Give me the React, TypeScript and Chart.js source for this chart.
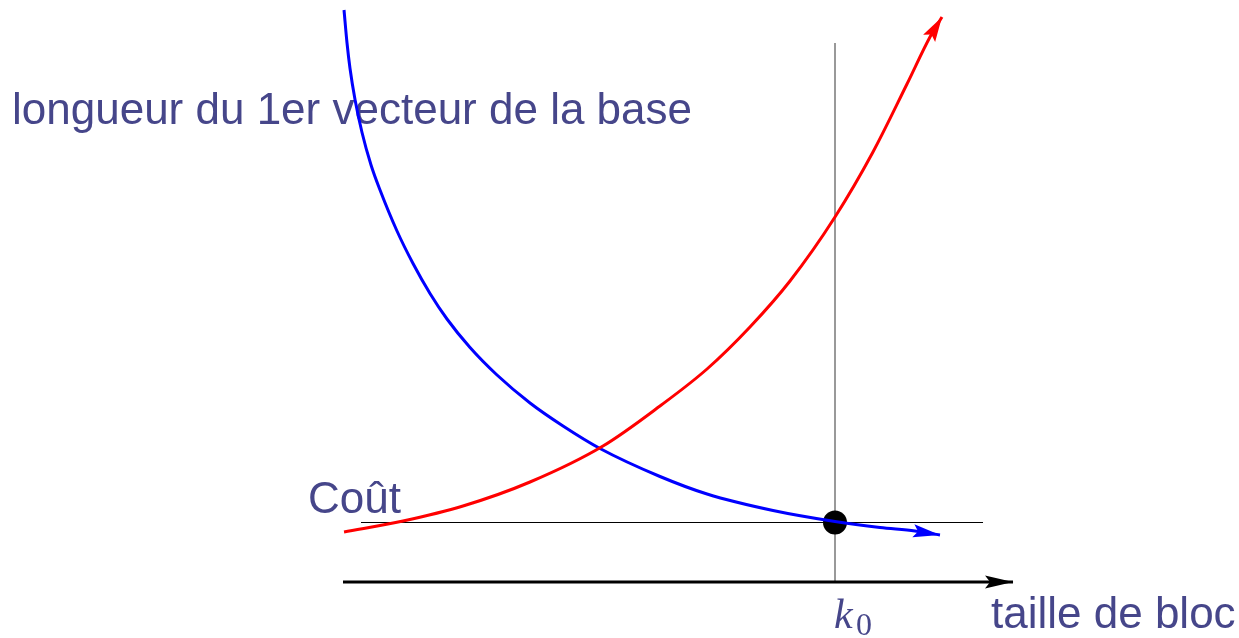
import React, { useEffect, useRef } from "react";
import { Chart, registerables } from "chart.js";

Chart.register(...registerables);

// Schematic data (x: block size, y: length / cost)
const lengthX = [0.017, 0.067, 0.117, 0.2, 0.317, 0.467, 0.617, 0.9, 1.167, 1.45, 1.733, 2.117, 2.567, 3.117, 3.667, 4.283, 5.283, 6.067, 7.167, 8.2, 8.95, 9.533, 9.95];
const lengthY = [11.44, 10.78, 10.27, 9.65, 8.99, 8.34, 7.84, 7.02, 6.37, 5.77, 5.26, 4.69, 4.14, 3.58, 3.12, 2.67, 2.11, 1.76, 1.43, 1.21, 1.09, 1.02, 0.94];

const costX = [0.017, 1.0, 2.0, 3.117, 4.333, 5.283, 6.067, 6.783, 7.45, 8.2, 8.833, 9.4, 9.783, 9.983];
const costY = [1.0, 1.22, 1.52, 2.0, 2.72, 3.52, 4.26, 5.1, 6.02, 7.3, 8.6, 9.96, 10.9, 11.3];

const axisX = [0, 11.167];
const axisY = [0, 0];

const k0 = 8.2;
const k0Top = 10.78;
const costLevel = 1.19;
const levelLineX = [0.3, 10.667];

const labels = {
  yTitle: "longueur du 1er vecteur de la base",
  cost: "Coût",
  xTitle: "taille de bloc",
  k: "k",
  kSub: "0",
};

const TEXT_COLOR = "#46468a";

const pts = (xs: number[], ys: number[]) => xs.map((x, i) => ({ x, y: ys[i] }));

export default function App() {
  const ref = useRef<HTMLCanvasElement | null>(null);

  useEffect(() => {
    if (!ref.current) return;
    document.body.style.margin = "0";

    const arrowPlugin = {
      id: "arrowsAndText",
      beforeDatasetsDraw(chart: any) {
        const ctx = chart.ctx;
        ctx.save();
        ctx.fillStyle = TEXT_COLOR;
        ctx.textBaseline = "alphabetic";
        ctx.textAlign = "left";
        ctx.font = '44px "Liberation Sans", Arial, sans-serif';
        ctx.fillText(labels.yTitle, 12, 124);
        ctx.fillText(labels.cost, 308, 513);
        ctx.fillText(labels.xTitle, 991, 628);
        ctx.font = 'italic 42px "Liberation Serif", "DejaVu Serif", serif';
        ctx.fillText(labels.k, 834, 628);
        ctx.font = '32px "Liberation Serif", "DejaVu Serif", serif';
        ctx.fillText(labels.kSub, 856, 635);
        ctx.restore();
      },
      afterDatasetsDraw(chart: any) {
        const ctx = chart.ctx;
        chart.data.datasets.forEach((ds: any, i: number) => {
          if (!ds.arrow) return;
          const meta = chart.getDatasetMeta(i);
          const n = meta.data.length;
          const tip = meta.data[n - 1];
          const prev = meta.data[n - 2];
          const ang = Math.atan2(tip.y - prev.y, tip.x - prev.x);
          const L = ds.arrow.len;
          const W = ds.arrow.half;
          ctx.save();
          ctx.translate(tip.x, tip.y);
          ctx.rotate(ang);
          ctx.fillStyle = ds.borderColor;
          ctx.beginPath();
          ctx.moveTo(0, 0);
          ctx.lineTo(-L, -W);
          ctx.lineTo(-L * 0.82, 0);
          ctx.lineTo(-L, W);
          ctx.closePath();
          ctx.fill();
          ctx.restore();
        });
      },
    };

    const chart = new Chart(ref.current, {
      type: "scatter",
      data: {
        datasets: [
          {
            label: "axis",
            data: pts(axisX, axisY),
            showLine: true,
            borderColor: "#000000",
            borderWidth: 3,
            pointRadius: 0,
            order: 0,
            arrow: { len: 28, half: 6.5 },
          } as any,
          {
            label: "coût",
            data: pts(costX, costY),
            showLine: true,
            borderColor: "#ff0000",
            borderWidth: 3,
            pointRadius: 0,
            cubicInterpolationMode: "monotone",
            order: 1,
            arrow: { len: 25, half: 7 },
          } as any,
          {
            label: "longueur",
            data: pts(lengthX, lengthY),
            showLine: true,
            borderColor: "#0000ff",
            borderWidth: 3,
            pointRadius: 0,
            cubicInterpolationMode: "monotone",
            order: 2,
            arrow: { len: 27, half: 6.5 },
          } as any,
          {
            label: "k0",
            data: [{ x: k0, y: costLevel }],
            pointRadius: 12,
            pointBackgroundColor: "#000000",
            pointBorderWidth: 0,
            order: 3,
          } as any,
          {
            label: "level",
            data: pts(levelLineX, [costLevel, costLevel]),
            showLine: true,
            borderColor: "#000000",
            borderWidth: 1,
            pointRadius: 0,
            order: 4,
          } as any,
          {
            label: "vline",
            data: pts([k0, k0], [0, k0Top]),
            showLine: true,
            borderColor: "#777777",
            borderWidth: 1.5,
            pointRadius: 0,
            order: 5,
          } as any,
        ],
      },
      options: {
        animation: false,
        responsive: false,
        layout: { padding: 0, autoPadding: false },
        plugins: { legend: { display: false }, tooltip: { enabled: false } },
        events: [],
        scales: {
          x: { type: "linear", display: false, min: -343 / 60, max: (1239 - 343) / 60 },
          y: { type: "linear", display: false, min: (582 - 638) / 50, max: 582 / 50 },
        },
        elements: { line: { borderCapStyle: "butt" } },
      } as any,
      plugins: [arrowPlugin],
    });
    return () => chart.destroy();
  }, []);

  return (
    <div style={{ position: "absolute", left: 0, top: 0, width: 1239, height: 638, background: "#fff" }}>
      <canvas ref={ref} width={1239} height={638} />
    </div>
  );
}
